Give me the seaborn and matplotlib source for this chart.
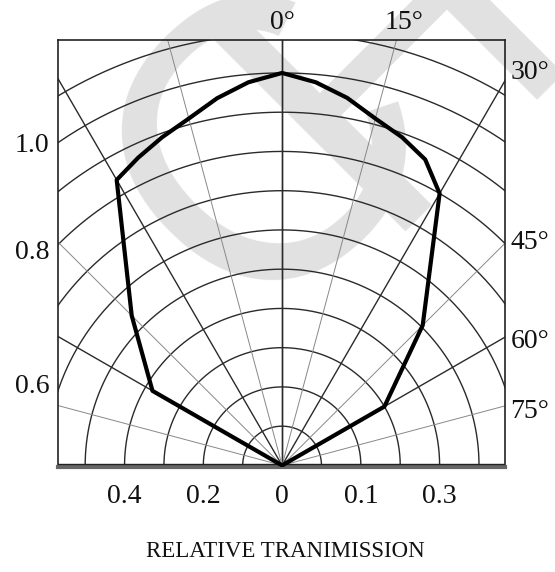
import numpy as np
import pandas as pd
import matplotlib
matplotlib.use("Agg")
import matplotlib.pyplot as plt
import seaborn as sns

# radiation pattern (deg from axis, negative = left side)
angles = [-60, -60, -45, -30, -25, -20, -15, -10, -5, 0, 5, 10, 15, 20, 25, 30, 45, 60, 60]
rel = [0.0, 0.38, 0.54, 0.84, 0.865, 0.89, 0.915, 0.95, 0.98, 1.0,
       0.98, 0.951, 0.915, 0.89, 0.86, 0.80, 0.505, 0.30, 0.0]

# grid
rings = [0.1, 0.2, 0.3, 0.4, 0.5, 0.6, 0.7, 0.8, 0.9, 1.0, 1.1]
spokes_dark = [0, 30, 60, 90]
spokes_light = [15, 45, 75]

# labels (positions)
left_labels = ["1.0", "0.8", "0.6"]
left_pos = [0.822, 0.551, 0.208]
bottom_labels = ["0.4", "0.2", "0", "0.1", "0.3"]
bottom_pos = [-0.4, -0.2, 0.0, 0.2, 0.4]
right_labels = ["30°", "45°", "60°", "75°"]
right_pos = [1.0, 0.569, 0.317, 0.137]
top_labels = ["0°", "15°"]
top_pos = [0.0, 0.31]

sns.set_theme(style="white")
plt.rcParams['font.family'] = ['Liberation Serif', 'DejaVu Serif']

fig = plt.figure(figsize=(5.55, 5.72), dpi=100)
ax = fig.add_axes([0.1045, 0.1836, 0.8054, 0.7465])
ax.patch.set_alpha(0)

# watermark letters, anchored at their baseline-left point (pixels)
for ch, (px, py) in zip("CH", [(248, 329), (373, 232)]):
    fig.text(px / 555, 1 - py / 572, ch, fontsize=288, color='#e1e1e1',
             family='Liberation Sans', rotation=45, rotation_mode='anchor',
             ha='left', va='baseline', zorder=-1)

# rings
t = np.linspace(0, np.pi, 400)
for r in rings:
    ax.plot(r * np.cos(t), r * np.sin(t), color='#2a2a2a', lw=1.0, zorder=2)

# spokes
for a in spokes_dark:
    for s in (-1, 1):
        ax.plot([0, s * 2 * np.sin(np.radians(a))], [0, 2 * np.cos(np.radians(a))],
                color='#2a2a2a', lw=1.0, zorder=2)
for a in spokes_light:
    for s in (-1, 1):
        ax.plot([0, s * 2 * np.sin(np.radians(a))], [0, 2 * np.cos(np.radians(a))],
                color='#888888', lw=0.7, zorder=2)

df = pd.DataFrame({'ang': angles, 'r': rel})
df['x'] = df['r'] * np.sin(np.radians(df['ang']))
df['y'] = df['r'] * np.cos(np.radians(df['ang']))
sns.lineplot(data=df, x='x', y='y', sort=False, estimator=None, color='black',
             lw=3, ax=ax, zorder=5)

ax.set_xlim(-0.569, 0.566)
ax.set_ylim(-0.004, 1.084)
ax.set_xlabel('')
ax.set_ylabel('')
ax.set_xticks(bottom_pos, bottom_labels)
ax.set_yticks(left_pos, left_labels)
ax.tick_params(axis='x', length=0, pad=12, labelsize=20, colors='#111111')
ax.tick_params(axis='y', length=0, pad=6, labelsize=20, colors='#111111')
for sp in ax.spines.values():
    sp.set_color('#222222')
    sp.set_linewidth(1.2)
ax.spines['bottom'].set_linewidth(3)
ax.spines['bottom'].set_color('#666666')
ax.axhline(0.004, color='#222222', lw=1.0, zorder=3)

for lab, y in zip(right_labels, right_pos):
    ax.text(1.012, y, lab, transform=ax.get_yaxis_transform(), fontsize=20,
            ha='left', va='center', color='#111111')
for lab, x in zip(top_labels, top_pos):
    ax.text(x, 1.012, lab, transform=ax.get_xaxis_transform(), fontsize=20,
            ha='center', va='bottom', color='#111111')

fig.text(0.515, 0.035, 'RELATIVE TRANIMISSION', fontsize=16.5, ha='center',
         va='center', color='#111111')

fig.savefig('out.png', dpi=100, facecolor='white')
